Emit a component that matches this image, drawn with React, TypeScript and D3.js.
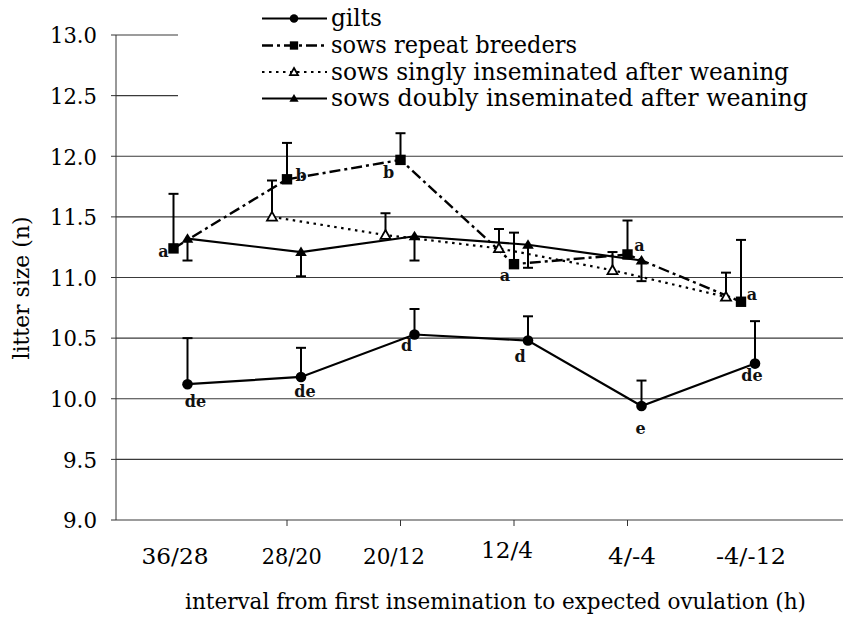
import React from 'react';
import * as d3 from 'd3';

// ---- data ----
const categories = ['36/28', '28/20', '20/12', '12/4', '4/-4', '-4/-12'];
const yTickValues = [9.0, 9.5, 10.0, 10.5, 11.0, 11.5, 12.0, 12.5, 13.0];

const giltsMean = [10.12, 10.18, 10.53, 10.48, 9.94, 10.29];
const giltsErrEnd = [10.5, 10.42, 10.74, 10.68, 10.15, 10.64];
const giltsLetters = ['de', 'de', 'd', 'd', 'e', 'de'];

const repeatMean = [11.24, 11.81, 11.97, 11.11, 11.19, 10.8];
const repeatErrEnd = [11.69, 12.11, 12.19, 11.37, 11.47, 11.31];
const repeatLetters = ['a', 'b', 'b', 'a', 'a', 'a'];

const singlyMean = [null, 11.5, 11.35, 11.24, 11.06, 10.84];
const singlyErrEnd = [null, 11.8, 11.53, 11.4, 11.21, 11.04];

const doublyMean = [11.32, 11.21, 11.34, 11.27, 11.14, null];
const doublyErrEnd = [11.14, 11.01, 11.14, 11.08, 10.97, null];

const legendLabels = [
  'gilts',
  'sows repeat breeders',
  'sows singly inseminated after weaning',
  'sows doubly inseminated after weaning',
];

// ---- layout / style ----
const W = 846;
const H = 622;
const FONT = '"DejaVu Serif", serif';
const AX_LEFT = 116;
const GRID_RIGHT = 843;
const xLabelDx = [1.5, 4.7, -6.5, -7, 4.5, 10];
const xLabelDy = [0, 0, 0, -6, 0, 0];
const xLabelWidths = [67, 60, 62, 52, 48, 70];
const repeatLetterOff = [[-10, 3], [14, -4], [-12, 13], [-9, 11], [12, -9], [11, -7]];
const giltsLetterOff = [[8, 17], [4, 14], [-8, 11], [-8, 16], [-1, 22], [-3, 12]];
const legendWidths = [51, 246, 458, 477];

const x = d3.scalePoint<string>().domain(categories).range([173.5, 741]);
const y = d3.scaleLinear().domain([9, 13]).range([520, 35]);

type MarkerType = 'circle' | 'square' | 'tri' | 'otri';

function Marker({ type, cx, cy, s = 1 }: { type: MarkerType; cx: number; cy: number; s?: number }) {
  if (type === 'circle') return <circle cx={cx} cy={cy} r={5.3 * s} fill="#000" />;
  if (type === 'square')
    return <rect x={cx - 5.2 * s} y={cy - 5.2 * s} width={10.4 * s} height={10.4 * s} fill="#000" />;
  if (type === 'tri')
    return (
      <path
        d={`M${cx},${cy - 5.5 * s}L${cx + 5.8 * s},${cy + 4 * s}L${cx - 5.8 * s},${cy + 4 * s}Z`}
        fill="#000"
      />
    );
  return (
    <path
      d={`M${cx},${cy - 5 * s}L${cx + 5 * s},${cy + 3.8 * s}L${cx - 5 * s},${cy + 3.8 * s}Z`}
      fill="#fff"
      stroke="#000"
      strokeWidth={1.8}
    />
  );
}

const series = [
  { mean: giltsMean, err: giltsErrEnd, dx: 14, dash: undefined, marker: 'circle' as MarkerType, width: 2.2 },
  { mean: repeatMean, err: repeatErrEnd, dx: 0, dash: '11,4,3,4', marker: 'square' as MarkerType, width: 2.4 },
  { mean: singlyMean, err: singlyErrEnd, dx: -15, dash: '2.5,4.5', marker: 'otri' as MarkerType, width: 2.2 },
  { mean: doublyMean, err: doublyErrEnd, dx: 14, dash: undefined, marker: 'tri' as MarkerType, width: 2.2 },
];

export default function App() {
  const line = d3
    .line<[number, number | null]>()
    .defined((d) => d[1] != null)
    .x((d) => d[0])
    .y((d) => y(d[1] as number));

  const legendRowY = [18.5, 45.5, 72, 98.5];

  return (
    <svg width={W} height={H} style={{ position: 'absolute', left: 0, top: 0, background: '#fff' }}>
      <rect x={0} y={0} width={W} height={H} fill="#fff" />
      {/* gridlines */}
      {yTickValues.map((v) => (
        <line key={'g' + v} x1={AX_LEFT} x2={GRID_RIGHT} y1={y(v)} y2={y(v)} stroke="#3a3a3a" strokeWidth={1.1} />
      ))}
      {/* legend background */}
      <rect x={178} y={0} width={W - 178} height={128} fill="#fff" />
      {/* y axis */}
      <line x1={AX_LEFT} x2={AX_LEFT} y1={y(13)} y2={y(9)} stroke="#333" strokeWidth={1} />
      {yTickValues.map((v) => (
        <g key={'t' + v}>
          <line x1={AX_LEFT - 5} x2={AX_LEFT} y1={y(v)} y2={y(v)} stroke="#333" strokeWidth={1} />
          <text
            x={97}
            y={y(v)}
            dy="0.37em"
            textAnchor="end"
            fontFamily={FONT}
            fontSize={22.5}
            fill="#000"
            textLength={v >= 10 ? 47 : 34}
            lengthAdjust="spacingAndGlyphs"
          >
            {d3.format('.1f')(v)}
          </text>
        </g>
      ))}
      {/* x ticks and labels */}
      {categories.map((c, i) =>
        i > 0 && i < categories.length - 1 ? (
          <line key={'xt' + c} x1={x(c)!} x2={x(c)!} y1={y(9)} y2={y(9) + 6} stroke="#333" strokeWidth={1} />
        ) : null
      )}
      {categories.map((c, i) => (
        <text
          key={'xl' + c}
          x={(x(c) as number) + xLabelDx[i]}
          y={564 + xLabelDy[i]}
          textAnchor="middle"
          fontFamily={FONT}
          fontSize={22.5}
          fill="#000"
          textLength={xLabelWidths[i]}
          lengthAdjust="spacingAndGlyphs"
        >
          {c}
        </text>
      ))}
      {/* axis titles */}
      <text
        x={495.5}
        y={609}
        textAnchor="middle"
        fontFamily={FONT}
        fontSize={22.5}
        fill="#000"
        textLength={621}
        lengthAdjust="spacingAndGlyphs"
      >
        interval from first insemination to expected ovulation (h)
      </text>
      <text
        transform="translate(29,288) rotate(-90)"
        textAnchor="middle"
        fontFamily={FONT}
        fontSize={22.5}
        fill="#000"
        textLength={143}
        lengthAdjust="spacingAndGlyphs"
      >
        litter size (n)
      </text>

      {/* series lines */}
      {series.map((s, si) => (
        <path
          key={'l' + si}
          d={line(categories.map((c, i) => [(x(c) as number) + s.dx, s.mean[i]]))!}
          fill="none"
          stroke="#000"
          strokeWidth={s.width}
          strokeDasharray={s.dash}
        />
      ))}
      {/* error bars */}
      {series.map((s, si) =>
        categories.map((c, i) => {
          const m = s.mean[i];
          const e = s.err[i];
          if (m == null || e == null) return null;
          const cx = (x(c) as number) + s.dx;
          return (
            <g key={'e' + si + '-' + i} stroke="#000" strokeWidth={2}>
              <line x1={cx} x2={cx} y1={y(m)} y2={y(e)} />
              <line x1={cx - 5} x2={cx + 5} y1={y(e)} y2={y(e)} />
            </g>
          );
        })
      )}
      {/* markers */}
      {series.map((s, si) =>
        categories.map((c, i) => {
          const m = s.mean[i];
          if (m == null) return null;
          return <Marker key={'m' + si + '-' + i} type={s.marker} cx={(x(c) as number) + s.dx} cy={y(m)} />;
        })
      )}
      {/* significance letters */}
      {categories.map((c, i) => (
        <text
          key={'rl' + i}
          x={(x(c) as number) + repeatLetterOff[i][0]}
          y={y(repeatMean[i]) + repeatLetterOff[i][1]}
          dy="0.35em"
          textAnchor="middle"
          fontFamily={FONT}
          fontSize={16}
          fontWeight="bold"
          fill="#111"
        >
          {repeatLetters[i]}
        </text>
      ))}
      {categories.map((c, i) => (
        <text
          key={'gl' + i}
          x={(x(c) as number) + 14 + giltsLetterOff[i][0]}
          y={y(giltsMean[i]) + giltsLetterOff[i][1]}
          dy="0.35em"
          textAnchor="middle"
          fontFamily={FONT}
          fontSize={16}
          fontWeight="bold"
          fill="#111"
        >
          {giltsLetters[i]}
        </text>
      ))}

      {/* legend */}
      {legendLabels.map((lab, i) => {
        const s = series[i];
        const ly = legendRowY[i];
        return (
          <g key={'lg' + i}>
            <line
              x1={262}
              x2={327}
              y1={ly}
              y2={ly}
              stroke="#000"
              strokeWidth={s.width}
              strokeDasharray={s.dash}
            />
            <Marker type={s.marker} cx={294} cy={ly} s={0.8} />
            <text
              x={331}
              y={ly}
              dy="0.33em"
              fontFamily={FONT}
              fontSize={23.5}
              fill="#000"
              textLength={legendWidths[i]}
              lengthAdjust="spacingAndGlyphs"
            >
              {lab}
            </text>
          </g>
        );
      })}
    </svg>
  );
}
